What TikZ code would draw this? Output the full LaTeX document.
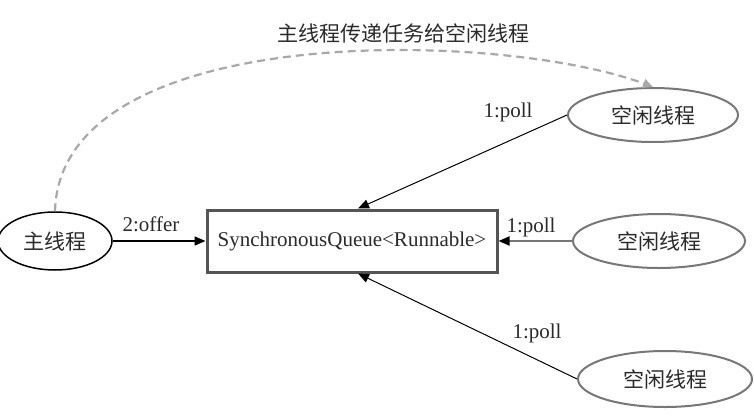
\documentclass[tikz,border=0pt]{standalone}
\usepackage{fontspec}
\setmainfont{Liberation Serif}
\newfontfamily\cjk{Noto Sans CJK SC}
\usetikzlibrary{shapes.geometric,arrows.meta}
\definecolor{txt}{HTML}{2A2A2A}
\definecolor{boxc}{HTML}{555555}
\definecolor{ellg}{HTML}{777777}
\definecolor{dash}{HTML}{A8A8A8}
\tikzset{
  lbl/.style={font=\fontsize{21}{25}\selectfont, text=txt, inner sep=0pt},
  mainell/.style={ellipse, draw=black, line width=1.5pt, font=\cjk\fontsize{21}{25}\selectfont, text=txt, inner sep=0pt},
  idleell/.style={ellipse, draw=ellg, line width=2pt, font=\cjk\fontsize{21}{25}\selectfont, text=txt, inner sep=0pt},
  qbox/.style={rectangle, draw=boxc, line width=3pt, font=\fontsize{21}{25}\selectfont, text=txt, inner sep=0pt, minimum width=290pt, minimum height=62pt},
  pollarr/.style={-{Triangle[length=11pt,width=9pt,color=black]}, line width=1pt, draw=black},
  dasharr/.style={-{Triangle[length=10pt,width=9pt]}, draw=dash, line width=2.2pt, dash pattern=on 8pt off 5pt}
}
\begin{document}
\begin{tikzpicture}[x=1pt,y=-1pt]
\useasboundingbox (0,0) rectangle (754,415);
\node[qbox] (box) at (352,241) {SynchronousQueue<Runnable>};
\node[mainell, minimum width=114pt, minimum height=58pt] (main) at (55,241) {主线程};
\node[idleell, minimum width=170pt, minimum height=54pt] (t1) at (653,115) {空闲线程};
\node[idleell, minimum width=172pt, minimum height=54pt] (t2) at (659,241) {空闲线程};
\node[idleell, minimum width=174pt, minimum height=56pt] (t3) at (665,379) {空闲线程};
% title
\node[lbl, font=\cjk\fontsize{21}{25}\selectfont] (title) at (403,33) {主线程传递任务给空闲线程};
% offer
\draw[pollarr, line width=1.6pt] (main.east) -- (box.west);
\node[lbl] (offer) at (151,224) {2:offer};
% polls
\draw[pollarr] (t1.west) -- ([xshift=6pt]box.north);
\node[lbl] (p1) at (508,112) {1:poll};
\draw[pollarr, draw=ellg, line width=1.8pt] (t2.west) -- (box.east);
\node[lbl] (p2) at (531,227) {1:poll};
\draw[pollarr] (t3.west) -- ([xshift=6pt]box.south);
\node[lbl] (p3) at (537,333) {1:poll};
% dashed arc
\draw[dasharr] (main.north) .. controls (60,20) and (500,30) .. (t1.north);
\end{tikzpicture}
\end{document}
